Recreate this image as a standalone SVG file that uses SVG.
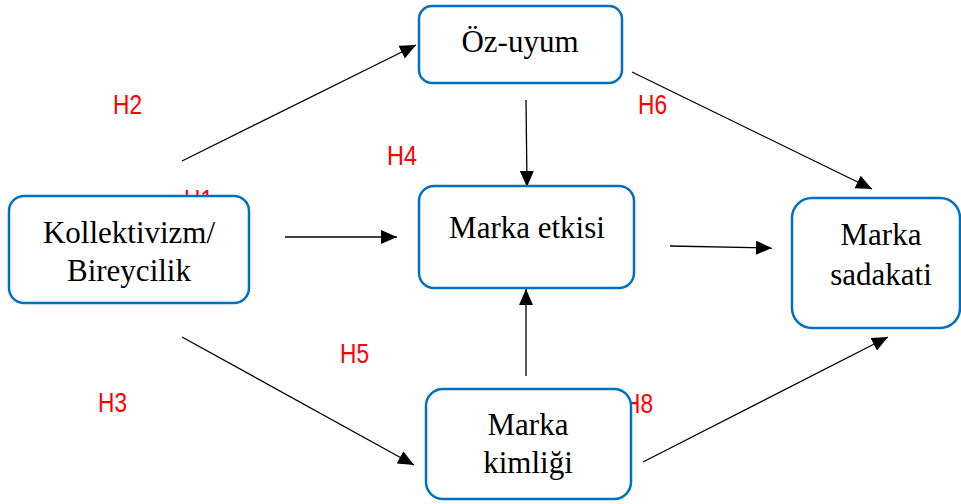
<svg xmlns="http://www.w3.org/2000/svg" width="961" height="504" viewBox="0 0 961 504">
<defs>
<marker id="ah" markerUnits="userSpaceOnUse" markerWidth="18" markerHeight="16" refX="16" refY="7" orient="auto">
<path d="M0,0 L16,7 L0,14 Z" fill="#000"/>
</marker>
<style>
.box{fill:#fff;stroke:#0070C0;stroke-width:2.5}
.t{font-family:"Liberation Serif","Times New Roman",serif;font-size:31px;fill:#000;text-anchor:middle}
.h{font-family:"Liberation Sans",Arial,sans-serif;font-size:27px;fill:#FF0000}
.c{stroke:#000;stroke-width:1.3;fill:none;marker-end:url(#ah)}
</style>
</defs>
<rect width="961" height="504" fill="#fff"/>
<g id="labels">
<text class="h" x="113" y="114" textLength="29" lengthAdjust="spacingAndGlyphs">H2</text>
<text class="h" x="184" y="209" textLength="29" lengthAdjust="spacingAndGlyphs">H1</text>
<text class="h" x="98" y="412" textLength="29" lengthAdjust="spacingAndGlyphs">H3</text>
<text class="h" x="387" y="165" textLength="30" lengthAdjust="spacingAndGlyphs">H4</text>
<text class="h" x="340" y="363" textLength="29" lengthAdjust="spacingAndGlyphs">H5</text>
<text class="h" x="638" y="114" textLength="29" lengthAdjust="spacingAndGlyphs">H6</text>
<text class="h" x="624" y="413" textLength="29" lengthAdjust="spacingAndGlyphs">H8</text>
</g>
<g id="connectors">
<line class="c" x1="182" y1="161" x2="416" y2="45"/>
<line class="c" x1="285" y1="237" x2="397" y2="237"/>
<line class="c" x1="182" y1="337" x2="414" y2="465"/>
<line class="c" x1="526" y1="100" x2="527" y2="187"/>
<line class="c" x1="526" y1="376" x2="526" y2="289"/>
<line class="c" x1="632" y1="72" x2="872" y2="189"/>
<line class="c" x1="670" y1="246" x2="772" y2="248"/>
<line class="c" x1="643" y1="462" x2="888" y2="337"/>
</g>
<g id="kollektivizm">
<rect class="box" x="9" y="196" width="240" height="107" rx="15"/>
<text class="t" x="129" y="243">Kollektivizm/</text>
<text class="t" x="129" y="281">Bireycilik</text>
</g>
<g id="oz-uyum">
<rect class="box" x="419" y="6" width="203" height="77" rx="13"/>
<text class="t" x="520" y="52">Öz-uyum</text>
</g>
<g id="marka-etkisi">
<rect class="box" x="419" y="186" width="215" height="102" rx="15"/>
<text class="t" x="527" y="238">Marka etkisi</text>
</g>
<g id="marka-sadakati">
<rect class="box" x="792" y="198" width="168" height="130" rx="20"/>
<text class="t" x="881" y="245">Marka</text>
<text class="t" x="881" y="285">sadakati</text>
</g>
<g id="marka-kimligi">
<rect class="box" x="426" y="389" width="205" height="110" rx="17"/>
<text class="t" x="528" y="435">Marka</text>
<text class="t" x="528" y="473">kimliği</text>
</g>
</svg>
